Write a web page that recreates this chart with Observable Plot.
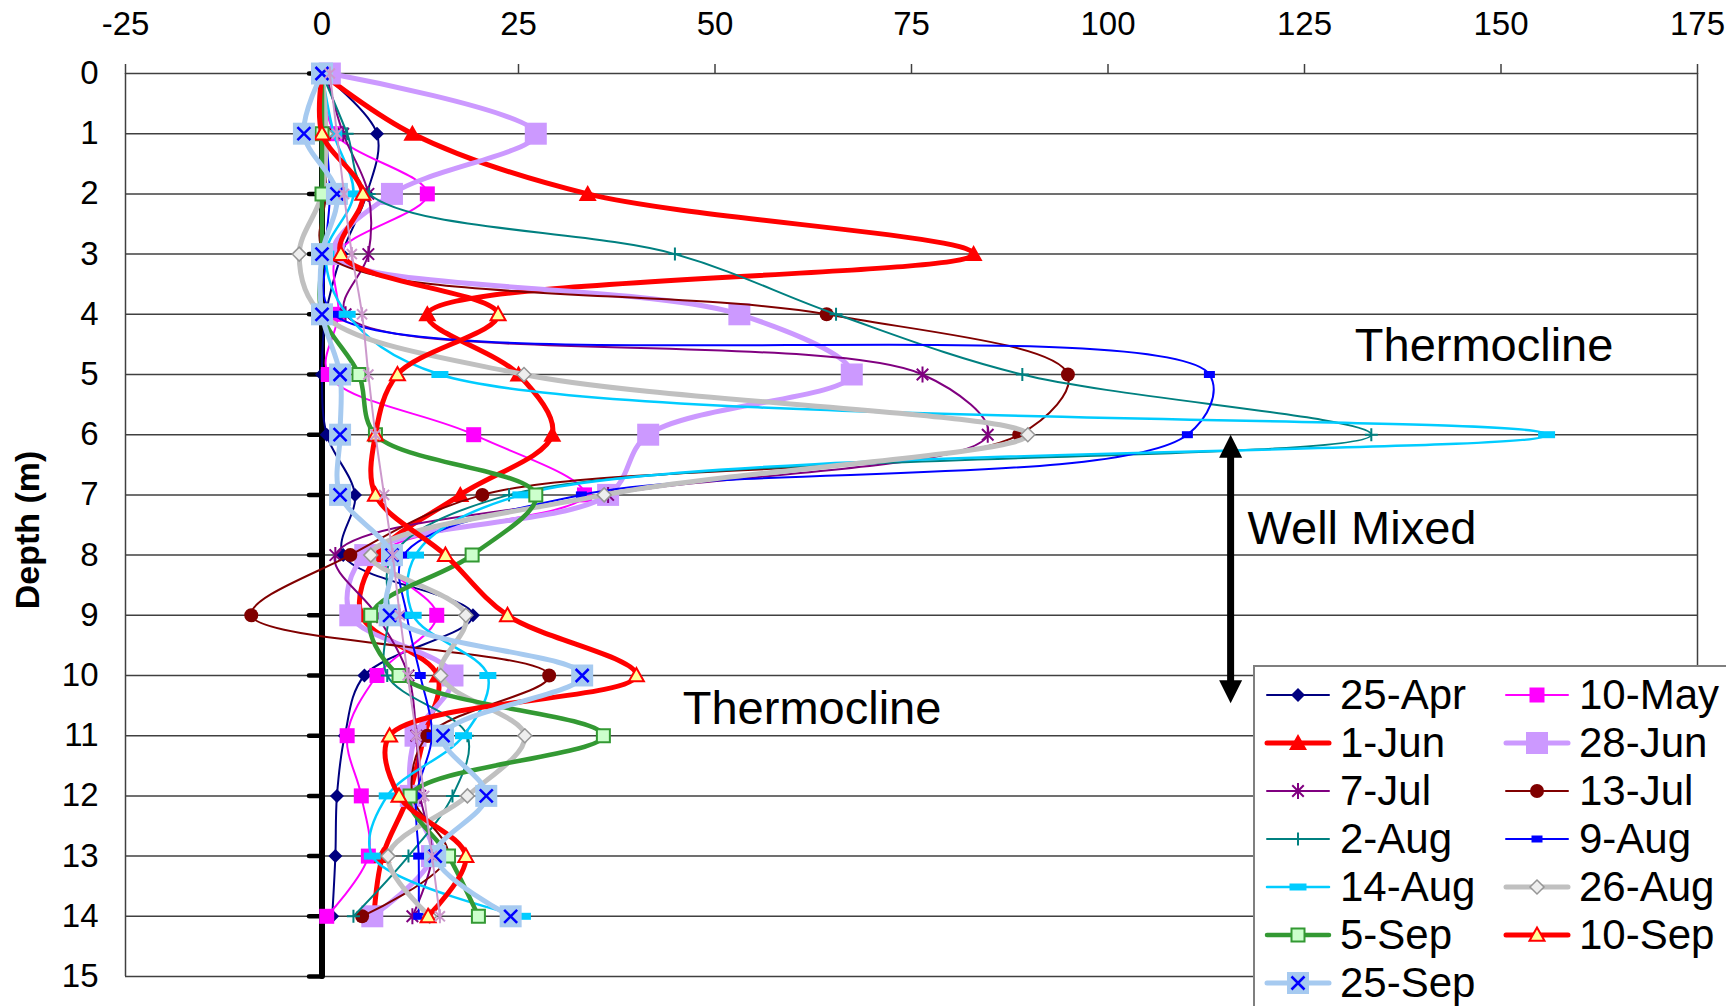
<!DOCTYPE html>
<html><head><meta charset="utf-8">
<script src="https://cdn.jsdelivr.net/npm/d3@7"></script>
<script src="https://cdn.jsdelivr.net/npm/@observablehq/plot@0.6"></script>
<style>
html,body{margin:0;padding:0;background:#fff;}
#chart{position:relative;width:1726px;height:1006px;overflow:hidden;font-family:"Liberation Sans",Arial,sans-serif;background:#fff;}
#legend{position:absolute;left:1253px;top:665px;width:540px;height:420px;background:#fff;border:2px solid #7f7f7f;box-sizing:border-box;padding:4px 0 0 12px;display:grid;grid-template-columns:239px 239px;grid-auto-rows:48px;}
.item{display:flex;align-items:center;font-size:42px;line-height:48px;color:#000;white-space:nowrap;}
.item svg{flex:none;margin-right:11px;overflow:visible;}
</style></head><body><div id="chart"></div>
<script>
// ---- data ----
const depths = [0,1,2,3,4,5,6,7,8,9,10,11,12,13,14];
const xTicks = [-25,0,25,50,75,100,125,150,175];
const yTicks = [0,1,2,3,4,5,6,7,8,9,10,11,12,13,14,15];
const apr25 = [0, 7.0, 5.7, 2.5, 0.5, 0, 0.6, 4.2, 2.7, 19.2, 5.4, 2.9, 1.9, 1.7, 1.3];
const may10 = [0, 1.7, 13.4, 1.9, 2.1, 0.8, 19.3, 33.4, 7.5, 14.6, 7.0, 3.2, 5.0, 5.9, 0.6];
const jun1  = [0, 11.5, 33.8, 82.9, 13.4, 25.0, 29.3, 17.6, 7.0, 5.0, 14.7, 13.0, 11.0, 7.7, 6.6];
const jun28 = [1.0, 27.2, 8.9, 1.5, 53.1, 67.4, 41.5, 36.4, 5.5, 3.6, 16.6, 11.9, 11.3, 14.0, 6.4];
const jul7  = [0.5, 2.7, 5.9, 5.9, 3.0, 76.4, 84.7, 36.4, 1.7, 7.0, 11.0, 12.0, 12.5, 14.0, 11.5];
const jul13 = [0, 0.5, 0.5, 0.5, 64.2, 94.9, 88.7, 20.4, 3.6, -9.0, 28.9, 13.4, 11.5, 16.0, 5.1];
const aug2  = [0, 3.2, 6.0, 44.9, 65.4, 89.1, 133.5, 23.8, 9.0, 8.5, 8.3, 18.5, 16.6, 11.0, 4.0];
const aug9  = [0, 0.5, 1.0, 0.5, 1.5, 112.9, 110.1, 33.0, 10.4, 10.8, 12.5, 14.0, 12.0, 12.3, 12.3];
const aug14 = [0, 1.5, 4.0, 0.5, 3.2, 15.0, 155.8, 25.3, 11.9, 11.6, 21.1, 18.0, 8.3, 6.4, 25.5];
const aug26 = [0, 0.5, 0, -2.9, 0, 25.7, 89.8, 35.9, 6.2, 18.3, 15.1, 25.8, 18.5, 8.4, 13.7];
const sep5  = [0, 0, 0, 0, 0, 4.7, 6.8, 27.2, 19.1, 6.2, 9.8, 35.8, 11.2, 16.1, 19.9];
const sep10 = [0, 0, 5.2, 2.4, 22.4, 9.6, 6.8, 6.8, 15.7, 23.6, 40.0, 8.6, 9.8, 18.3, 13.5];
const sep25 = [0, -2.3, 1.9, 0, 0, 2.3, 2.3, 2.3, 8.9, 8.6, 33.1, 15.4, 20.9, 14.4, 24.0];
const unlabelled = [1.0, 1.9, 2.8, 3.8, 5.1, 5.9, 6.8, 7.9, 9.0, 9.9, 10.9, 12.0, 13.0, 14.0, 15.0];
const notes = [
  {text: "Thermocline", x: 131.4, depth: 4.77},
  {text: "Well Mixed", x: 117.75, depth: 7.81},
  {text: "Thermocline", x: 45.9, depth: 10.8}
];
const wellMixedArrow = [{x: 115.6, from: 6.0, to: 10.46}];

// ---- marker shapes ----
const mk = {
  diamond: h => ({draw(c){c.moveTo(0,-h);c.lineTo(h,0);c.lineTo(0,h);c.lineTo(-h,0);c.closePath();}}),
  square: h => ({draw(c){c.moveTo(-h,-h);c.lineTo(h,-h);c.lineTo(h,h);c.lineTo(-h,h);c.closePath();}}),
  rect: (w,h) => ({draw(c){c.moveTo(-w,-h);c.lineTo(w,-h);c.lineTo(w,h);c.lineTo(-w,h);c.closePath();}}),
  triangle: s => ({draw(c){c.moveTo(0,-s);c.lineTo(s,s*0.78);c.lineTo(-s,s*0.78);c.closePath();}}),
  circle: r => ({draw(c){c.moveTo(r,0);c.arc(0,0,r,0,2*Math.PI);c.closePath();}}),
  star: r => ({draw(c){const k=r*0.72;c.moveTo(0,-r);c.lineTo(0,r);c.moveTo(-k,-k);c.lineTo(k,k);c.moveTo(-k,k);c.lineTo(k,-k);}}),
  plus: r => ({draw(c){c.moveTo(0,-r);c.lineTo(0,r);c.moveTo(-r,0);c.lineTo(r,0);}}),
  times: r => ({draw(c){c.moveTo(-r,-r);c.lineTo(r,r);c.moveTo(-r,r);c.lineTo(r,-r);}}),
  tickLeft: l => ({draw(c){c.moveTo(-l,0);c.lineTo(0,0);}}),
  headUp: (w,h) => ({draw(c){c.moveTo(0,0);c.lineTo(w,h);c.lineTo(-w,h);c.closePath();}}),
  headDown: (w,h) => ({draw(c){c.moveTo(0,0);c.lineTo(w,-h);c.lineTo(-w,-h);c.closePath();}})
};

const series = [
  {name:"25-Apr", values:apr25, stroke:"#000080", width:2, markers:[{sym:mk.diamond(7), fill:"#000080", stroke:"none"}]},
  {name:"10-May", values:may10, stroke:"#FF00FF", width:2, markers:[{sym:mk.square(7.5), fill:"#FF00FF", stroke:"none"}]},
  {name:"1-Jun", values:jun1, stroke:"#FF0000", width:5, markers:[{sym:mk.triangle(9), fill:"#FF0000", stroke:"none"}]},
  {name:"28-Jun", values:jun28, stroke:"#CC99FF", width:5, markers:[{sym:mk.square(11), fill:"#CC99FF", stroke:"none"}]},
  {name:"7-Jul", values:jul7, stroke:"#800080", width:2, markers:[{sym:mk.star(8), fill:"none", stroke:"#800080", sw:2}]},
  {name:"13-Jul", values:jul13, stroke:"#800000", width:2, markers:[{sym:mk.circle(7), fill:"#800000", stroke:"none"}]},
  {name:"2-Aug", values:aug2, stroke:"#008080", width:2, markers:[{sym:mk.plus(6.5), fill:"none", stroke:"#008080", sw:2}]},
  {name:"9-Aug", values:aug9, stroke:"#0000FF", width:2, markers:[{sym:mk.rect(5.5,3.5), fill:"#0000FF", stroke:"none"}]},
  {name:"14-Aug", values:aug14, stroke:"#00CCFF", width:2.5, markers:[{sym:mk.rect(8.5,3.5), fill:"#00CCFF", stroke:"none"}]},
  {name:"26-Aug", values:aug26, stroke:"#C0C0C0", width:5, markers:[{sym:mk.diamond(7), fill:"#EEEEEE", stroke:"#969696", sw:1.5}]},
  {name:"5-Sep", values:sep5, stroke:"#339933", width:4.5, markers:[{sym:mk.square(6.5), fill:"#CCFFCC", stroke:"#339933", sw:2}]},
  {name:"10-Sep", values:sep10, stroke:"#FF0000", width:5, markers:[{sym:mk.triangle(7.5), fill:"#FFFF99", stroke:"#FF0000", sw:2}]},
  {name:"25-Sep", values:sep25, stroke:"#A6CAF0", width:5, markers:[{sym:mk.square(11), fill:"#A6CAF0", stroke:"none"},{sym:mk.times(6.5), fill:"none", stroke:"#0000FF", sw:2.5}]},
  {name:null, values:unlabelled, stroke:"#CC99CC", width:2, markers:[{sym:mk.star(7), fill:"none", stroke:"#CC99CC", sw:2}]}
];

// ---- marks ----
const marks = [
  Plot.ruleY(yTicks, {stroke:"#404040", strokeWidth:1.5}),
  Plot.ruleX([xTicks[0], xTicks[xTicks.length-1]], {stroke:"#404040", strokeWidth:1.5}),
  Plot.axisX(xTicks, {anchor:"top", tickSize:10, tickPadding:29, fontSize:33, stroke:"#404040", strokeWidth:1.5, fill:"black", tickFormat:d=>String(d), label:null}),
  Plot.axisY(yTicks, {anchor:"left", tickSize:0, tickPadding:27, fontSize:33, fill:"black", tickFormat:d=>String(d), label:null}),
  Plot.text(["Depth (m)"], {frameAnchor:"left", textAnchor:"middle", dx:-97, dy:5, rotate:-90, fontSize:34, fontWeight:"bold", fill:"black"}),
  Plot.ruleX([0], {y1:yTicks[0], y2:yTicks[yTicks.length-1], stroke:"black", strokeWidth:6, strokeLinecap:"round"}),
  Plot.dot(yTicks, {x:() => 0, y:d => d, symbol:mk.tickLeft(13), fill:"none", stroke:"black", strokeWidth:4.5, strokeLinecap:"round"})
];
for (const s of series) {
  const rows = depths.map((d,i) => ({depth:d, v:s.values[i]}));
  marks.push(Plot.line(rows, {x:"v", y:"depth", curve:"catmull-rom", stroke:s.stroke, strokeWidth:s.width, strokeLinejoin:"round", strokeLinecap:"round"}));
  for (const m of s.markers) {
    marks.push(Plot.dot(rows, {x:"v", y:"depth", symbol:m.sym, fill:m.fill, stroke:m.stroke, strokeWidth:m.sw || 1}));
  }
}
marks.push(
  Plot.ruleX(wellMixedArrow, {x:"x", y1:"from", y2:"to", stroke:"black", strokeWidth:7, insetTop:12, insetBottom:12}),
  Plot.dot(wellMixedArrow, {x:"x", y:"from", symbol:mk.headUp(11.5,23), fill:"black", stroke:"none"}),
  Plot.dot(wellMixedArrow, {x:"x", y:"to", symbol:mk.headDown(11.5,23), fill:"black", stroke:"none"}),
  Plot.text(notes, {x:"x", y:"depth", text:"text", textAnchor:"start", lineAnchor:"bottom", fontSize:47, fill:"black"})
);

const chart = Plot.plot({
  width:1726, height:1006,
  marginLeft:125, marginRight:29, marginTop:73, marginBottom:30,
  x:{domain:[xTicks[0], xTicks[xTicks.length-1]]},
  y:{domain:[yTicks[0], yTicks[yTicks.length-1]], reverse:true},
  style:{fontFamily:"'Liberation Sans', Arial, sans-serif", fontSize:"33px", color:"black", background:"white", overflow:"visible"},
  marks
});
const root = document.getElementById("chart");
root.appendChild(chart);

// ---- legend ----
const legend = document.createElement("div");
legend.id = "legend";
for (const s of series) {
  if (!s.name) continue;
  const item = document.createElement("div");
  item.className = "item";
  const svg = d3.create("svg").attr("width",62).attr("height",48);
  svg.append("line").attr("x1",0).attr("x2",62).attr("y1",24).attr("y2",24)
    .attr("stroke",s.stroke).attr("stroke-width",s.width).attr("stroke-linecap","round");
  for (const m of s.markers) {
    const p = d3.path(); m.sym.draw(p);
    svg.append("path").attr("d",p.toString()).attr("transform","translate(31,24)")
      .attr("fill",m.fill).attr("stroke",m.stroke).attr("stroke-width",m.sw || 1);
  }
  item.appendChild(svg.node());
  const label = document.createElement("span");
  label.textContent = s.name;
  item.appendChild(label);
  legend.appendChild(item);
}
root.appendChild(legend);
</script></body></html>
